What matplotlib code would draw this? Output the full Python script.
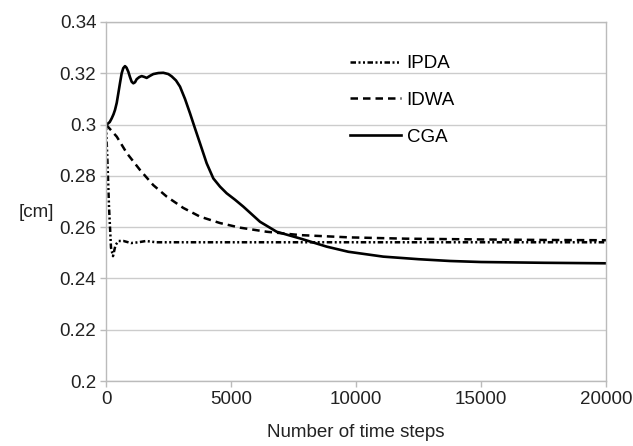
import matplotlib
matplotlib.use("Agg")
import matplotlib.pyplot as plt

plt.rcParams['font.family'] = ['Liberation Sans', 'DejaVu Sans']

# IPDA (dash-dot-dot)
ipda_x = [0, 60, 120, 200, 280, 380, 500, 700, 1000, 1300, 1600, 2000, 5000, 10000, 15000, 20000]
ipda_y = [0.300, 0.285, 0.268, 0.252, 0.2487, 0.2530, 0.2546, 0.2546, 0.2538, 0.2541, 0.2546, 0.2541,
          0.2541, 0.2541, 0.2541, 0.2541]

# IDWA (dashed)
idwa_x = [0, 430, 830, 1360, 1890, 2430, 3090, 3760, 4560, 5360, 6430, 7760, 9760, 12000, 15000, 17500, 20000]
idwa_y = [0.300, 0.2953, 0.2889, 0.2823, 0.2764, 0.2719, 0.2675, 0.2641, 0.2616, 0.2598, 0.2582,
          0.2569, 0.2560, 0.2555, 0.2552, 0.2550, 0.2549]

# CGA (solid)
cga_x = [0, 53, 150, 227, 300, 360, 430, 493, 560, 627, 690, 760, 820, 893, 960, 1027, 1093, 1160,
         1227, 1330, 1427, 1527, 1627, 1760, 1893, 2093, 2293, 2493, 2627, 2800, 2960, 3160, 3360,
         3560, 3760, 4027, 4293, 4560, 4827, 5160, 5493, 6160, 6827, 7760, 8827, 9693, 11090, 12500,
         13760, 15000, 17500, 20000]
cga_y = [0.300, 0.3002, 0.3010, 0.3024, 0.3040, 0.3057, 0.3085, 0.3122, 0.3162, 0.3200, 0.3220,
         0.3228, 0.3222, 0.3206, 0.3185, 0.3167, 0.3161, 0.3165, 0.3177, 0.3185, 0.3189, 0.3186,
         0.3182, 0.3190, 0.3197, 0.3201, 0.3202, 0.3197, 0.3188, 0.3172, 0.3148, 0.3100, 0.3044,
         0.2985, 0.2927, 0.2849, 0.2790, 0.2758, 0.2732, 0.2707, 0.2680, 0.2621, 0.2582, 0.2556,
         0.2524, 0.2504, 0.2485, 0.2475, 0.2468, 0.2464, 0.2461, 0.2459]

yticks = [0.2, 0.22, 0.24, 0.26, 0.28, 0.3, 0.32, 0.34]
ytick_labels = ['0.2', '0.22', '0.24', '0.26', '0.28', '0.3', '0.32', '0.34']
xticks = [0, 5000, 10000, 15000, 20000]

fig = plt.figure(figsize=(6.33, 4.46), dpi=100)
ax = fig.add_axes([106 / 633, 1 - 381 / 446, 500 / 633, 359 / 446])

ax.plot(ipda_x, ipda_y, color='black', lw=1.8, ls=(0, (2.2, 1, 0.8, 1, 0.8, 1)), label='IPDA')
ax.plot(idwa_x, idwa_y, color='black', lw=1.8, ls=(0, (3, 2)), label='IDWA')
ax.plot(cga_x, cga_y, color='black', lw=1.9, ls='-', label='CGA')

ax.set_xlim(0, 20000)
ax.set_ylim(0.2, 0.34)
ax.set_xticks(xticks)
ax.set_xticklabels([str(v) for v in xticks])
ax.set_yticks(yticks)
ax.set_yticklabels(ytick_labels)
ax.yaxis.grid(True, color='#cccccc', lw=1)
ax.set_axisbelow(True)
for s in ax.spines.values():
    s.set_color('#bbbbbb')
    s.set_linewidth(1)
ax.tick_params(colors='#bbbbbb', labelcolor='#222222', labelsize=13.5, length=4, width=1, pad=3)

ax.set_xlabel('Number of time steps', fontsize=13.5, color='#222222', labelpad=12)
fig.text(36 / 633, 1 - 213 / 446, '[cm]', fontsize=13.5, color='#222222', ha='center', va='center')

ax.legend(loc='upper left', bbox_to_anchor=(0.455, 0.955), frameon=False, fontsize=13.5,
          handlelength=2.7, handletextpad=0.3, labelspacing=1.05)

fig.savefig('out.png', dpi=100)
